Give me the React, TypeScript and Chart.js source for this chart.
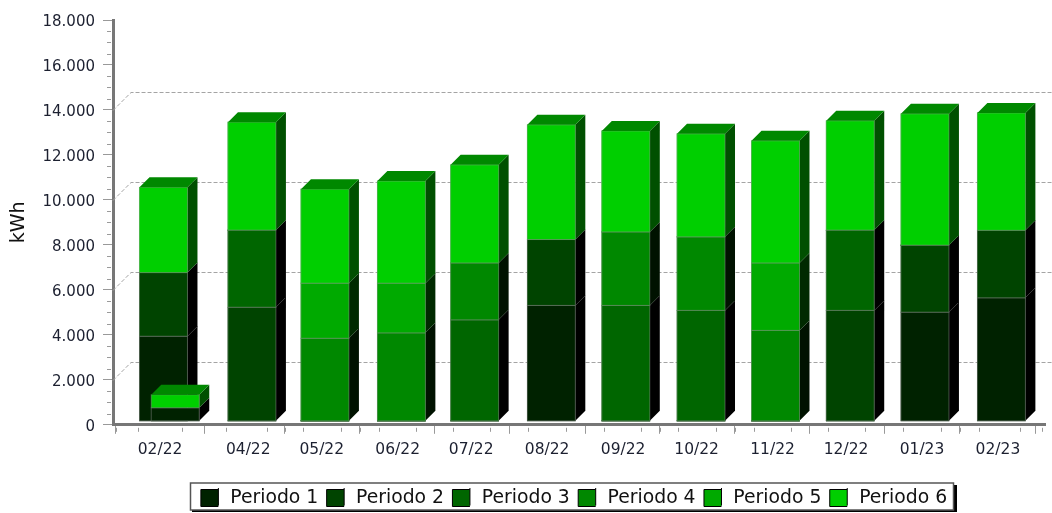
import React, { useEffect, useRef } from "react";
import { Chart, registerables } from "chart.js";

Chart.register(...registerables);

// Day number since 2022-01-01 of each delivered bar (second entry is the small overlapping bar).
const barDays = [55.4, 60.2, 91.5, 121.3, 152.5, 182.4, 213.7, 244.1, 274.8, 305.2, 335.7, 366.2, 397.4];
const tickDays = [54, 90, 120, 151, 181, 212, 243, 273, 304, 334, 365, 396];
const tickLabels = ["02/22", "04/22", "05/22", "06/22", "07/22", "08/22", "09/22", "10/22", "11/22", "12/22", "01/23", "02/23"];

const periodo1 = [3760, 580, 0, 0, 0, 0, 5130, 0, 0, 0, 0, 4830, 5470];
const periodo2 = [2830, 0, 5050, 0, 0, 0, 2930, 0, 0, 0, 4910, 2980, 3000];
const periodo3 = [0, 0, 3430, 0, 0, 4490, 0, 5130, 4910, 0, 3570, 0, 0];
const periodo4 = [0, 0, 0, 3670, 3910, 2530, 0, 3270, 3270, 4020, 0, 0, 0];
const periodo5 = [0, 0, 0, 2450, 2210, 0, 0, 0, 0, 3000, 0, 0, 0];
const periodo6 = [3790, 580, 4800, 4180, 4540, 4360, 5100, 4490, 4580, 5430, 4860, 5840, 5220];

const seriesNames = ["Periodo 1", "Periodo 2", "Periodo 3", "Periodo 4", "Periodo 5", "Periodo 6"];
const seriesValues = [periodo1, periodo2, periodo3, periodo4, periodo5, periodo6];
const colors = ["#002200", "#004400", "#006600", "#008800", "#00aa00", "#00cf00"];
const sideColors = ["#000000", "#000000", "#000000", "#001200", "#002a00", "#005000"];
const topColor = "#008800";
const dashedGridValues = [2000, 6000, 10000, 14000];

const DEPTH = 10;
const GRID_DEPTH = 18;
const FONT = "'DejaVu Sans'";
const LEGEND_PADDING = 8.4;
const SWATCH = 17;

const threeD = {
  id: "threeD",
  afterLayout(chart: any) {
    const legend = chart.legend;
    legend.left = 96;
    legend.right = 1052;
    legend.top += 4.4;
  },
  beforeDraw(chart: any) {
    const { ctx } = chart;
    ctx.save();
    ctx.fillStyle = "#000";
    ctx.fillRect(192, 485, 765, 27);
    ctx.fillStyle = "#fff";
    ctx.strokeStyle = "#555";
    ctx.lineWidth = 1.5;
    ctx.fillRect(190.5, 483, 763, 27);
    ctx.strokeRect(190.5, 483, 763, 27);
    ctx.restore();
  },
  beforeDatasetsDraw(chart: any) {
    const { ctx, chartArea } = chart;
    const y = chart.scales.y;
    ctx.save();
    ctx.strokeStyle = "#a4a4a4";
    ctx.lineWidth = 1;
    ctx.setLineDash([4, 2]);
    dashedGridValues.forEach((v) => {
      const py = Math.round(y.getPixelForValue(v)) + 0.5;
      ctx.beginPath();
      ctx.moveTo(chartArea.left, py);
      ctx.lineTo(chartArea.left + GRID_DEPTH, py - GRID_DEPTH);
      ctx.lineTo(1052, py - GRID_DEPTH);
      ctx.stroke();
    });
    ctx.restore();
  },
  afterDatasetsDraw(chart: any) {
    const { ctx } = chart;
    const metas = seriesNames.map((_, i) => chart.getDatasetMeta(i));
    ctx.save();
    barDays.forEach((_, idx) => {
      let last: any = null;
      metas.forEach((meta: any, s: number) => {
        if (!seriesValues[s][idx]) return;
        const el = meta.data[idx];
        const l = el.x - el.width / 2;
        const r = el.x + el.width / 2;
        ctx.fillStyle = sideColors[s];
        ctx.beginPath();
        ctx.moveTo(r, el.y);
        ctx.lineTo(r + DEPTH, el.y - DEPTH);
        ctx.lineTo(r + DEPTH, el.base - DEPTH);
        ctx.lineTo(r, el.base);
        ctx.closePath();
        ctx.fill();
        ctx.fillStyle = colors[s];
        ctx.fillRect(l, el.y, el.width, el.base - el.y);
        ctx.strokeStyle = "rgba(150,150,150,0.45)";
        ctx.lineWidth = 1;
        ctx.strokeRect(l, el.y, el.width, el.base - el.y);
        last = el;
      });
      if (last) {
        const l = last.x - last.width / 2;
        const r = last.x + last.width / 2;
        ctx.fillStyle = topColor;
        ctx.beginPath();
        ctx.moveTo(l, last.y);
        ctx.lineTo(l + DEPTH, last.y - DEPTH);
        ctx.lineTo(r + DEPTH, last.y - DEPTH);
        ctx.lineTo(r, last.y);
        ctx.closePath();
        ctx.fill();
      }
    });
    ctx.restore();
  },
  afterDraw(chart: any) {
    const { ctx, chartArea, scales, legend } = chart;
    ctx.save();
    ctx.strokeStyle = "#9a9a9a";
    ctx.lineWidth = 1;
    for (let v = 500; v < 18000; v += 500) {
      if (v % 2000 === 0) continue;
      const py = Math.round(scales.y.getPixelForValue(v)) + 0.5;
      ctx.beginPath();
      ctx.moveTo(chartArea.left - 6, py);
      ctx.lineTo(chartArea.left - 2, py);
      ctx.stroke();
    }
    const minor: number[] = [];
    const first = tickDays[0];
    const step0 = (tickDays[1] - tickDays[0]) / 4;
    minor.push(first - 2 * step0, first - step0);
    tickDays.slice(0, -1).forEach((d, i) => {
      const st = (tickDays[i + 1] - d) / 4;
      for (let k = 1; k < 4; k++) minor.push(d + k * st);
    });
    const lastT = tickDays[tickDays.length - 1];
    minor.push(lastT + 9, lastT + 18);
    minor.forEach((d) => {
      const px = Math.round(scales.x.getPixelForValue(d)) + 0.5;
      ctx.beginPath();
      ctx.moveTo(px, chartArea.bottom + 3);
      ctx.lineTo(px, chartArea.bottom + 7);
      ctx.stroke();
    });
    // trim the legend swatches to their square size, keeping the text offset
    let x = (legend.left + LEGEND_PADDING + legend.right - legend.lineWidths[0]) / 2;
    legend.legendHitBoxes.forEach((hit: any) => {
      ctx.fillStyle = "#fff";
      ctx.fillRect(x + SWATCH + 0.5, 486, 5, 23);
      ctx.strokeStyle = "#000";
      ctx.beginPath();
      ctx.moveTo(x + SWATCH + 0.5, 488);
      ctx.lineTo(x + SWATCH + 0.5, 505.5);
      ctx.stroke();
      x += hit.width + LEGEND_PADDING;
    });
    ctx.restore();
  },
};

export default function App() {
  const ref = useRef<HTMLCanvasElement>(null);
  useEffect(() => {
    const chart = new Chart(ref.current as HTMLCanvasElement, {
      type: "bar",
      data: {
        datasets: seriesNames.map((name, s) => ({
          label: name,
          data: barDays.map((d, i) => ({ x: d, y: seriesValues[s][i] })),
          backgroundColor: colors[s],
          borderWidth: 0,
          barThickness: 48,
          yAxisID: "y1",
        })),
      },
      options: {
        responsive: false,
        animation: false,
        events: [],
        layout: { padding: { top: 20, right: 7, bottom: 0, left: 0 } },
        plugins: {
          tooltip: { enabled: false },
          legend: {
            position: "bottom",
            labels: {
              boxWidth: 20,
              boxHeight: 17,
              padding: LEGEND_PADDING,
              color: "#111",
              font: { family: FONT, size: 18.8 },
              generateLabels: () =>
                seriesNames.map((n, i) => ({
                  text: n,
                  fillStyle: colors[i],
                  strokeStyle: "#000",
                  lineWidth: 1,
                  datasetIndex: i,
                  fontColor: "#111",
                })),
            },
          },
        },
        scales: {
          x: {
            type: "linear",
            stacked: true,
            offset: false,
            min: 34.8,
            max: 415.2,
            afterFit: (s: any) => {
              s.height = 51;
            },
            afterBuildTicks: (s: any) => {
              s.ticks = tickDays.map((v) => ({ value: v }));
            },
            border: { color: "#777", width: 3 },
            grid: { drawOnChartArea: false, drawTicks: true, tickLength: 9, tickColor: "#999" },
            ticks: {
              autoSkip: false,
              maxRotation: 0,
              padding: 7,
              color: "#1c2030",
              font: { family: FONT, size: 15.5 },
              callback: (_: any, i: number) => tickLabels[i],
            },
          },
          y: {
            min: 0,
            max: 18000,
            afterFit: (s: any) => {
              s.width = 113;
            },
            border: { color: "#777", width: 3 },
            grid: { drawOnChartArea: false, drawTicks: true, tickLength: 10, tickColor: "#999" },
            title: {
              display: true,
              text: "kWh",
              color: "#111",
              font: { family: FONT, size: 19 },
              padding: { top: 8, bottom: 0 },
            },
            ticks: {
              stepSize: 2000,
              padding: 8,
              labelOffset: 2,
              color: "#1c2030",
              font: { family: FONT, size: 15 },
              callback: (v: any) => (v === 0 ? "0" : Number(v).toLocaleString("de-DE")),
            },
          },
          y1: { display: false, stacked: true, min: -178, max: 17822 },
        },
      },
      plugins: [threeD],
    } as any);
    return () => chart.destroy();
  }, []);
  return (
    <canvas
      ref={ref}
      width={1052}
      height={513}
      style={{ position: "fixed", left: 0, top: 0, width: 1052, height: 513, filter: "blur(0.45px)" }}
    />
  );
}
